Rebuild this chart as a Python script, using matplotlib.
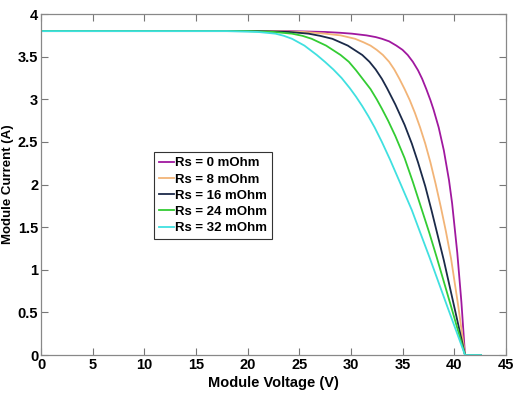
import matplotlib
matplotlib.use('Agg')
import matplotlib.pyplot as plt

# I-V curves of the module for several series resistances
labels = ['Rs = 0 mOhm', 'Rs = 8 mOhm', 'Rs = 16 mOhm', 'Rs = 24 mOhm', 'Rs = 32 mOhm']
colors = ['#a0189f', '#f2b477', '#1b2a49', '#33cc33', '#40e0e0']

v_rs0 = [0, 24, 27.5, 29.0, 30.1, 31.5, 32.4, 33.0, 33.7, 34.4, 35.0, 35.5, 36.0, 36.5, 36.9,
         37.3, 37.7, 38.0, 38.5, 39.0, 39.5, 39.8, 40.3, 40.7, 41.05, 42.6]
i_rs0 = [3.80, 3.80, 3.79, 3.78, 3.77, 3.75, 3.73, 3.71, 3.68, 3.63, 3.58, 3.52, 3.44, 3.34, 3.24,
         3.12, 2.99, 2.88, 2.67, 2.40, 2.05, 1.78, 1.20, 0.62, 0, 0]

v_rs8 = [0, 22, 25.5, 27.5, 29.0, 30.4, 31.2, 31.9, 32.5, 33.1, 33.7, 34.2, 34.7, 35.2, 35.7,
         36.2, 36.7, 37.2, 37.7, 38.2, 38.7, 39.2, 39.7, 40.4, 41.05, 42.6]
i_rs8 = [3.80, 3.80, 3.79, 3.77, 3.75, 3.71, 3.67, 3.63, 3.58, 3.52, 3.44, 3.35, 3.24, 3.12, 2.99,
         2.84, 2.67, 2.48, 2.26, 2.01, 1.74, 1.45, 1.13, 0.57, 0, 0]

v_rs16 = [0, 21, 24, 25.9, 27.0, 28.2, 29.7, 31.1, 31.8, 32.4, 33.0, 33.5, 34.3, 35.2, 35.9,
          36.5, 37.2, 37.8, 39.0, 40.0, 41.05, 42.6]
i_rs16 = [3.80, 3.80, 3.79, 3.77, 3.745, 3.71, 3.63, 3.52, 3.44, 3.35, 3.24, 3.13, 2.94, 2.70, 2.48,
          2.26, 1.98, 1.70, 1.11, 0.57, 0, 0]

v_rs24 = [0, 20, 22.5, 24.3, 25.3, 26.2, 27.6, 29.0, 29.8, 30.5, 31.2, 31.9, 32.5, 33.0, 33.6,
          34.3, 35.2, 36.0, 36.8, 37.6, 38.3, 39.0, 39.7, 41.05, 42.6]
i_rs24 = [3.80, 3.80, 3.79, 3.77, 3.745, 3.71, 3.63, 3.52, 3.44, 3.34, 3.23, 3.12, 3.00, 2.89, 2.75,
          2.57, 2.31, 2.03, 1.73, 1.43, 1.15, 0.86, 0.57, 0, 0]

v_rs32 = [0, 18, 21, 22.7, 23.5, 24.3, 25.5, 26.7, 27.5, 28.3, 29.1, 29.9, 30.5, 31.1, 31.7,
          32.3, 33.0, 33.8, 34.8, 35.9, 36.7, 37.6, 39.3, 41.05, 42.6]
i_rs32 = [3.80, 3.80, 3.79, 3.77, 3.745, 3.71, 3.63, 3.52, 3.438, 3.35, 3.25, 3.13, 3.03, 2.92, 2.80,
          2.67, 2.50, 2.29, 2.01, 1.70, 1.44, 1.15, 0.58, 0, 0]

voltages = [v_rs0, v_rs8, v_rs16, v_rs24, v_rs32]
currents = [i_rs0, i_rs8, i_rs16, i_rs24, i_rs32]

x_ticks = [0, 5, 10, 15, 20, 25, 30, 35, 40, 45]
y_ticks = [0, 0.5, 1, 1.5, 2, 2.5, 3, 3.5, 4]

font = 'Liberation Sans'

fig = plt.figure(figsize=(5.13, 3.96), dpi=100)
ax = fig.add_axes([0.080, 0.1035, 0.906, 0.861])

for v, i, c, lab in zip(voltages, currents, colors, labels):
    ax.plot(v, i, color=c, linewidth=1.3, label=lab)

ax.set_xlim(0, 45)
ax.set_ylim(0, 4)
ax.set_xticks(x_ticks)
ax.set_yticks(y_ticks)
ax.set_xticklabels([str(t) for t in x_ticks])
ax.set_yticklabels([('%g' % t) for t in y_ticks])

ax.tick_params(direction='in', length=5, width=0.8, color='#777777',
               top=True, right=True, pad=2)
for lbl in ax.get_xticklabels() + ax.get_yticklabels():
    lbl.set_fontfamily(font)
    lbl.set_fontweight('bold')
    lbl.set_fontsize(10.5)
for s in ax.spines.values():
    s.set_color('#888888')
    s.set_linewidth(0.9)

ax.set_xlabel('Module Voltage (V)', fontfamily=font, fontweight='bold',
              fontsize=10.5, labelpad=3)
ax.set_ylabel('Module Current (A)', fontfamily=font, fontweight='bold',
              fontsize=9.5, labelpad=3)

leg = ax.legend(loc='upper left', bbox_to_anchor=(0.244, 0.594),
                prop={'family': font, 'weight': 'bold', 'size': 9.5},
                handlelength=1.1, handletextpad=0.1, borderpad=0.35,
                labelspacing=0.3, fancybox=False, framealpha=1,
                borderaxespad=0)
leg.get_frame().set_edgecolor('#333333')
leg.get_frame().set_linewidth(0.8)

fig.savefig('out.png', dpi=100)
